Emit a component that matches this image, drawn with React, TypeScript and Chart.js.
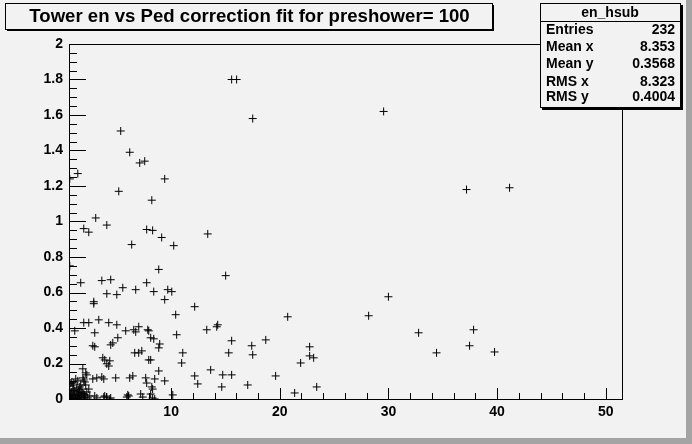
import React, { useEffect, useRef } from "react";
import { Chart, registerables } from "chart.js";

Chart.register(...registerables);

const chartTitle = "Tower en vs Ped correction fit for preshower= 100";
const statsTitle = "en_hsub";
const statsLabels = ["Entries", "Mean x", "Mean y", "RMS x", "RMS y"];
const statsValues = ["232", "8.353", "0.3568", "8.323", "0.4004"];

const xTickValues = [10, 20, 30, 40, 50];
const yTickValues = [0, 0.2, 0.4, 0.6, 0.8, 1, 1.2, 1.4, 1.6, 1.8, 2];
const xMinorStep = 2;
const yMinorStep = 0.05;
const xRange = [0.6, 51.5];
const yRange = [0, 2];

const xValues = [
  15.57, 16.03, 17.51, 29.56, 37.19, 41.15, 5.36, 6.19, 7.11, 7.57,
  9.41, 5.18, 8.22, 0.67, 1.41, 3.06, 4.08, 1.96, 2.42, 7.75,
  8.3, 9.13, 6.37, 10.24, 13.37, 0.67, 8.86, 15.02, 1.68, 3.62,
  4.44, 7.75, 4.08, 5.0, 5.55, 6.74, 8.4, 9.69, 10.06, 9.41,
  2.88, 2.88, 12.17, 10.42, 20.73, 30.0, 28.18, 32.78, 37.84, 37.47,
  34.43, 39.77, 1.96, 2.42, 3.34, 4.26, 5.0, 1.13, 2.97, 5.82,
  6.56, 6.74, 7.02, 7.85, 7.94, 13.28, 14.2, 14.29, 10.51, 5.09,
  8.12, 8.4, 15.57, 18.71, 17.42, 22.75, 8.95, 8.86, 4.63, 4.44,
  2.79, 2.97, 11.07, 15.3, 17.51, 6.65, 7.02, 7.3, 22.75, 23.12,
  21.92, 10.97, 23.4, 3.71, 3.89, 4.35, 4.08, 4.26, 7.94, 8.12,
  1.87, 2.14, 2.24, 8.86, 12.17, 13.64, 14.75, 15.57, 19.62, 12.45,
  14.66, 17.05, 21.37, 2.79, 3.16, 3.62, 3.8, 4.9, 6.19, 6.47,
  7.66, 8.49, 9.41, 7.75, 8.22, 8.3, 0.86, 1.22, 1.41, 1.87,
  1.96, 2.42, 0.77, 1.04, 1.59, 2.05, 2.14, 2.97, 3.16, 3.89,
  4.08, 4.44, 6.01, 6.1, 5.92, 7.2, 8.12, 8.3, 10.15, 7.39,
  2.51, 3.8, 4.35, 8.49,
  0.49, 0.58, 0.67, 0.76, 0.86, 0.86, 0.95, 1.04, 1.13, 1.13,
  1.22, 1.32, 1.41, 1.41, 1.5, 1.59, 1.59, 1.68, 1.78, 1.87,
  1.96, 2.05, 2.14, 2.24, 2.33, 0.67, 1.04, 1.32, 1.78, 0.58,
  0.67, 0.76, 1.22, 1.5, 1.96, 0.95, 0.62, 1.68,
];

const yValues = [
  1.8, 1.8, 1.58, 1.62, 1.18, 1.19, 1.51, 1.39, 1.33, 1.34,
  1.24, 1.17, 1.12, 1.24, 1.27, 1.02, 0.98, 0.96, 0.94, 0.955,
  0.95, 0.91, 0.87, 0.864, 0.93, 0.75, 0.73, 0.695, 0.655, 0.667,
  0.672, 0.655, 0.593, 0.588, 0.627, 0.616, 0.605, 0.616, 0.605, 0.56,
  0.548, 0.537, 0.52, 0.475, 0.463, 0.576, 0.469, 0.373, 0.39, 0.3,
  0.26, 0.265, 0.43, 0.43, 0.446, 0.43, 0.418, 0.384, 0.373, 0.384,
  0.39, 0.378, 0.407, 0.39, 0.384, 0.39, 0.407, 0.418, 0.362, 0.345,
  0.345, 0.339, 0.328, 0.333, 0.3, 0.294, 0.31, 0.288, 0.316, 0.305,
  0.3, 0.294, 0.26, 0.26, 0.249, 0.26, 0.26, 0.271, 0.243, 0.232,
  0.203, 0.203, 0.068, 0.232, 0.22, 0.215, 0.198, 0.186, 0.22, 0.22,
  0.17, 0.147, 0.136, 0.158, 0.13, 0.164, 0.136, 0.136, 0.13, 0.085,
  0.068, 0.079, 0.034, 0.113, 0.119, 0.124, 0.113, 0.119, 0.119, 0.13,
  0.119, 0.113, 0.102, 0.09, 0.068, 0.056, 0.096, 0.113, 0.102, 0.119,
  0.107, 0.056, 0.09, 0.09, 0.068, 0.096, 0.079, 0.017, 0.006, 0.017,
  0.011, 0.006, 0.023, 0.017, 0.011, 0.028, 0.028, 0.006, 0.023, 0.011,
  0.017, 0.011, 0.0, 0.0,
  0.011, 0.034, 0.006, 0.023, 0.04, 0.006, 0.017, 0.028, 0.0, 0.045,
  0.011, 0.023, 0.034, 0.006, 0.017, 0.04, 0.0, 0.023, 0.011, 0.034,
  0.006, 0.023, 0.011, 0.04, 0.006, 0.051, 0.056, 0.062, 0.056, 0.017,
  0.0, 0.0, 0.0, 0.051, 0.028, 0.079, 0.073, 0.079,
];

const BG = "#f2f2f2";
const FONT = "'Liberation Sans', Arial, Helvetica, sans-serif";

const rootDecor = {
  id: "rootDecor",
  beforeDraw(chart: any) {
    const ctx = chart.ctx;
    const w = chart.width;
    const h = chart.height;
    ctx.save();
    ctx.fillStyle = BG;
    ctx.fillRect(0, 0, w, h);
    // canvas bevel (bottom/right darker)
    ctx.fillStyle = "#a4a4a4";
    ctx.fillRect(w - 6, 0, 6, h);
    ctx.fillRect(0, h - 6, w, 6);
    ctx.restore();
  },
  afterDatasetsDraw(chart: any) {
    const ctx = chart.ctx;
    const a = chart.chartArea;
    const xs = chart.scales.x;
    const ys = chart.scales.y;
    ctx.save();
    ctx.strokeStyle = "#000";
    ctx.lineWidth = 1;
    // frame
    ctx.strokeRect(Math.round(a.left) + 0.5, Math.round(a.top) + 0.5, Math.round(a.right - a.left), Math.round(a.bottom - a.top));
    // y ticks
    ctx.beginPath();
    for (let v = yRange[0]; v <= yRange[1] + 1e-9; v += yMinorStep) {
      const py = Math.round(ys.getPixelForValue(v)) + 0.5;
      const isMajor = yTickValues.some((t) => Math.abs(t - v) < 1e-6);
      const len = isMajor ? 17 : 8;
      ctx.moveTo(a.left, py);
      ctx.lineTo(a.left + len, py);
    }
    // x ticks
    for (let v = xMinorStep; v <= xRange[1]; v += xMinorStep) {
      if (v < xRange[0]) continue;
      const px = Math.round(xs.getPixelForValue(v)) + 0.5;
      const isMajor = xTickValues.includes(v);
      const len = isMajor ? 11 : 6;
      ctx.moveTo(px, a.bottom);
      ctx.lineTo(px, a.bottom - len);
    }
    ctx.stroke();

    // title box
    const tb = { x: 5, y: 3, w: 487, h: 26 };
    ctx.fillStyle = "#000";
    ctx.fillRect(tb.x + 2, tb.y + 2, tb.w, tb.h);
    ctx.fillStyle = BG;
    ctx.fillRect(tb.x, tb.y, tb.w, tb.h);
    ctx.strokeRect(tb.x + 0.5, tb.y + 0.5, tb.w, tb.h);
    ctx.fillStyle = "#000";
    ctx.font = `bold 18.6px ${FONT}`;
    ctx.textAlign = "center";
    ctx.textBaseline = "middle";
    ctx.fillText(chartTitle, tb.x + tb.w / 2 + 1, tb.y + tb.h / 2 + 1);

    // stats box
    const sb = { x: 540, y: 3, w: 140, h: 104 };
    ctx.fillStyle = "#000";
    ctx.fillRect(sb.x + 2, sb.y + 2, sb.w + 1, sb.h + 1);
    ctx.fillStyle = BG;
    ctx.fillRect(sb.x, sb.y, sb.w, sb.h);
    ctx.strokeRect(sb.x + 0.5, sb.y + 0.5, sb.w, sb.h);
    ctx.beginPath();
    ctx.moveTo(sb.x, sb.y + 18.5);
    ctx.lineTo(sb.x + sb.w, sb.y + 18.5);
    ctx.stroke();
    ctx.fillStyle = "#000";
    ctx.font = `bold 14px ${FONT}`;
    ctx.textAlign = "center";
    ctx.fillText(statsTitle, sb.x + sb.w / 2, sb.y + 10);
    const rowY = [30, 47.5, 64.5, 82, 97];
    statsLabels.forEach((lab, i) => {
      ctx.textAlign = "left";
      ctx.fillText(lab, sb.x + 6, rowY[i]);
      ctx.textAlign = "right";
      ctx.fillText(statsValues[i], sb.x + sb.w - 5, rowY[i]);
    });
    ctx.restore();
  },
};

export default function App() {
  const ref = useRef<HTMLCanvasElement | null>(null);
  useEffect(() => {
    if (!ref.current) return;
    const tickFont = { family: FONT, weight: "bold" as const, size: 14 };
    const chart = new Chart(ref.current, {
      type: "scatter",
      data: {
        datasets: [
          {
            data: xValues.map((x, i) => ({ x, y: yValues[i] })),
            pointStyle: "cross",
            pointRadius: 4,
            pointHoverRadius: 4,
            borderColor: "#000",
            backgroundColor: "#000",
            borderWidth: 1,
          },
        ],
      },
      options: {
        responsive: false,
        animation: false,
        events: [],
        layout: { padding: { top: 44, right: 70, left: 0, bottom: 0 } },
        plugins: { legend: { display: false }, tooltip: { enabled: false } },
        scales: {
          x: {
            type: "linear",
            min: xRange[0],
            max: xRange[1],
            afterFit: (s: any) => {
              s.height = 45;
            },
            afterBuildTicks: (s: any) => {
              s.ticks = xTickValues.map((v) => ({ value: v }));
            },
            grid: { display: false, drawTicks: false },
            border: { display: false },
            ticks: { color: "#000", font: tickFont, padding: 5, maxRotation: 0, autoSkip: false },
          },
          y: {
            type: "linear",
            min: yRange[0],
            max: yRange[1],
            afterFit: (s: any) => {
              s.width = 69;
            },
            afterBuildTicks: (s: any) => {
              s.ticks = yTickValues.map((v) => ({ value: v }));
            },
            grid: { display: false, drawTicks: false },
            border: { display: false },
            ticks: {
              color: "#000",
              font: tickFont,
              padding: 6,
              autoSkip: false,
              callback: (v: any) => String(Math.round(Number(v) * 10) / 10),
            },
          },
        },
      },
      plugins: [rootDecor],
    });
    return () => chart.destroy();
  }, []);
  return (
    <div style={{ position: "fixed", left: 0, top: 0, width: 692, height: 444 }}>
      <canvas ref={ref} width={692} height={444} style={{ width: 692, height: 444, display: "block" }} />
    </div>
  );
}
